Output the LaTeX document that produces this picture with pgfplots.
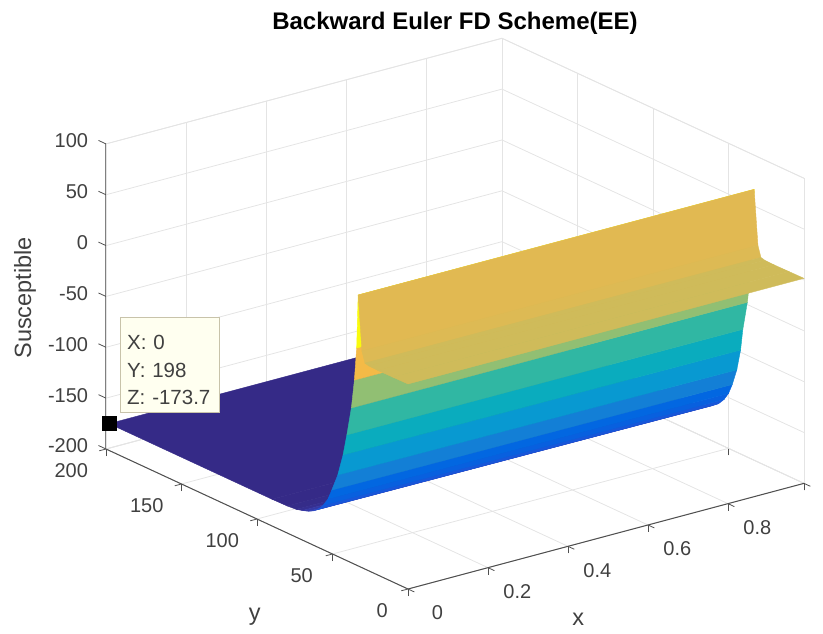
\documentclass[border=0pt]{standalone}
\usepackage{fontspec}
\setmainfont{Liberation Sans}
\usepackage{pgfplots}
\usepackage{pgfplotstable}
\pgfplotsset{compat=1.18}
\definecolor{txt}{HTML}{404040}
\definecolor{gridc}{HTML}{E4E4E4}
\definecolor{axc}{HTML}{505050}
\definecolor{tipfill}{RGB}{255,255,240}
\definecolor{tipedge}{RGB}{200,195,170}
\pgfplotsset{
 colormap={parula}{rgb=(0.2081,0.1663,0.5292) rgb=(0.2116,0.1898,0.5777) rgb=(0.2123,0.2138,0.6270) rgb=(0.2081,0.2386,0.6771) rgb=(0.1959,0.2645,0.7279) rgb=(0.1707,0.2919,0.7792) rgb=(0.1253,0.3242,0.8303) rgb=(0.0591,0.3598,0.8683) rgb=(0.0117,0.3875,0.8820) rgb=(0.0060,0.4086,0.8828) rgb=(0.0165,0.4266,0.8786) rgb=(0.0329,0.4430,0.8720) rgb=(0.0498,0.4586,0.8641) rgb=(0.0629,0.4737,0.8554) rgb=(0.0723,0.4887,0.8467) rgb=(0.0779,0.5040,0.8384) rgb=(0.0793,0.5200,0.8312) rgb=(0.0749,0.5375,0.8263) rgb=(0.0641,0.5570,0.8240) rgb=(0.0488,0.5772,0.8228) rgb=(0.0343,0.5966,0.8199) rgb=(0.0265,0.6137,0.8135) rgb=(0.0239,0.6287,0.8038) rgb=(0.0231,0.6418,0.7913) rgb=(0.0228,0.6535,0.7768) rgb=(0.0267,0.6642,0.7607) rgb=(0.0384,0.6743,0.7436) rgb=(0.0590,0.6838,0.7254) rgb=(0.0843,0.6928,0.7062) rgb=(0.1133,0.7015,0.6859) rgb=(0.1453,0.7098,0.6646) rgb=(0.1801,0.7177,0.6424) rgb=(0.2178,0.7250,0.6193) rgb=(0.2586,0.7317,0.5954) rgb=(0.3022,0.7376,0.5712) rgb=(0.3482,0.7424,0.5473) rgb=(0.3953,0.7459,0.5244) rgb=(0.4420,0.7481,0.5033) rgb=(0.4871,0.7491,0.4840) rgb=(0.5300,0.7491,0.4661) rgb=(0.5709,0.7485,0.4494) rgb=(0.6099,0.7473,0.4337) rgb=(0.6473,0.7456,0.4188) rgb=(0.6834,0.7435,0.4044) rgb=(0.7184,0.7411,0.3905) rgb=(0.7525,0.7384,0.3768) rgb=(0.7858,0.7356,0.3633) rgb=(0.8185,0.7327,0.3498) rgb=(0.8507,0.7299,0.3360) rgb=(0.8824,0.7274,0.3217) rgb=(0.9139,0.7258,0.3063) rgb=(0.9450,0.7261,0.2886) rgb=(0.9739,0.7314,0.2666) rgb=(0.9938,0.7455,0.2403) rgb=(0.9990,0.7653,0.2164) rgb=(0.9955,0.7861,0.1967) rgb=(0.9880,0.8066,0.1794) rgb=(0.9789,0.8271,0.1633) rgb=(0.9697,0.8481,0.1475) rgb=(0.9626,0.8705,0.1309) rgb=(0.9589,0.8949,0.1132) rgb=(0.9598,0.9218,0.0948) rgb=(0.9661,0.9514,0.0755) rgb=(0.9763,0.9831,0.0538)}
}
% rows from far to near; c = colour value of the facet between this row and the next nearer row
\pgfplotstableread{
x y z c
0 198 -173.7 -173.7
0.99 198 -173.7 -173.7
0 90 -173.7 -173.7
0.99 90 -173.7 -173.7
0 80 -173.4 -173
0.99 77 -172.4 -173
0 74 -172.6 -171
0.99 71 -171 -171
0 70 -171 -165
0.99 67 -169 -165
0 66 -169 -159
0.99 63 -167 -159
0 63 -166.6 -155
0.99 60 -164.6 -155
0 59.5 -162.5 -150
0.99 56.5 -160.5 -150
0 56 -156 -146
0.99 53 -154 -146
0 53 -148 -142
0.99 50 -146 -142
0 50.5 -137.5 -120
0.99 47.5 -135.5 -120
0 46.5 -119.9 -100
0.99 44.5 -119 -100
0 43 -97.8 -79
0.99 42 -97.8 -79
0 40.5 -76.4 -60
0.99 40.5 -76.4 -60
0 37.5 -47.8 -28
0.99 37.5 -47.8 -28
0 35.5 -19 13.6
0.99 35.5 -19 13.6
0 34 13.6 66.4
0.99 34 13.6 66.4
0 33 66.4 5
0.99 33 66.4 5
0 30.5 13 3
0.99 30.5 13 3
0 28.5 2.5 -3
0.99 28.5 2.5 -3
0 26 1.5 -3
0.99 26 1.5 -3
0 20 1.2 -3
0.99 20 1.2 -3
0 10 1.4 -3
0.99 10 1.4 -3
0 0 1.6 -3
0.99 0 1.6 -3
}\surfdata
\begin{document}
\begin{tikzpicture}
\useasboundingbox (-408pt,-247.4pt) rectangle (415pt,385.6pt);
\begin{axis}[
 at={(0pt,0pt)}, anchor=origin,
 x={(400pt,106.7pt)}, y={(-1.51pt,0.7pt)}, z={(0pt,1.017pt)},
 xmin=0, xmax=0.99, ymin=0, ymax=200, zmin=-200, zmax=100,
 xtick={0,0.2,0.4,0.6,0.8,0.99}, ytick={0,50,100,150,200}, ztick={-200,-150,-100,-50,0,50,100},
 xticklabels={0\hspace{12pt},0.2,0.4,0.6,0.8,\hspace{6pt}1}, yticklabels={\hspace{18pt}0,\hspace{8pt}50,100,150,200},
 zticklabels={-200,-150,-100,-50,0,50,100},
 tick pos=left,
 grid=major, major grid style={gridc, line width=0.8pt},
 axis line style={gridc, line width=0.8pt},
 tick align=outside, major tick length=7pt,
 tick style={axc, line width=0.8pt},
 ztick style={draw=none},
 ticklabel style={font=\fontsize{20}{22}\selectfont, text=txt},
 xticklabel style={anchor=center, xshift=23pt, yshift=-21pt},
 yticklabel style={anchor=center, xshift=-28pt, yshift=-20pt},
 zticklabel style={anchor=east, xshift=-8pt},
 title={\bfseries Backward Euler FD Scheme(EE)},
 title style={font=\fontsize{24}{26}\selectfont, text=black, yshift=-6pt},
 xlabel={x}, ylabel={y}, zlabel={Susceptible},
 label style={font=\fontsize{23.5}{26}\selectfont, text=txt},
 xlabel style={xshift=-64pt, yshift=-26pt},
 ylabel style={xshift=44pt, yshift=-38pt},
 zlabel style={yshift=4pt, xshift=-8pt},
 colormap name=parula,
 point meta min=-173.7, point meta max=56,
 clip=false,
]
\addplot3[surf, shader=flat corner, mesh/cols=2, mesh/ordering=x varies, z buffer=none,
  point meta=explicit] table[x=x,y=y,z=z,meta=c] {\surfdata};
\draw[axc, line width=1pt] (axis cs:0,200,-200) -- (axis cs:0,0,-200) -- (axis cs:0.99,0,-200);
\draw[gray, line width=1pt] (axis cs:0,200,-200) -- (axis cs:0,200,100);
\pgfplotsinvokeforeach{-200,-150,-100,-50,0,50,100}{
  \draw[axc, line width=0.8pt] (axis cs:0,200,#1) -- (axis cs:0,205,#1);
}
\addplot3[only marks, mark=square*, mark size=7pt, mark options={black}] coordinates {(0,198,-173.7)};
\node[anchor=south west, draw=tipedge, fill=tipfill, minimum width=99pt, minimum height=95pt,
  xshift=11pt, yshift=11pt, inner sep=0pt, text=txt, font=\fontsize{20.5}{27.5}\selectfont, align=left, text width=85pt]
  at (axis cs:0,198,-173.7) {\rule{0pt}{25pt}X: 0\\Y: 198\\Z: -173.7};
\end{axis}
\end{tikzpicture}
\end{document}
